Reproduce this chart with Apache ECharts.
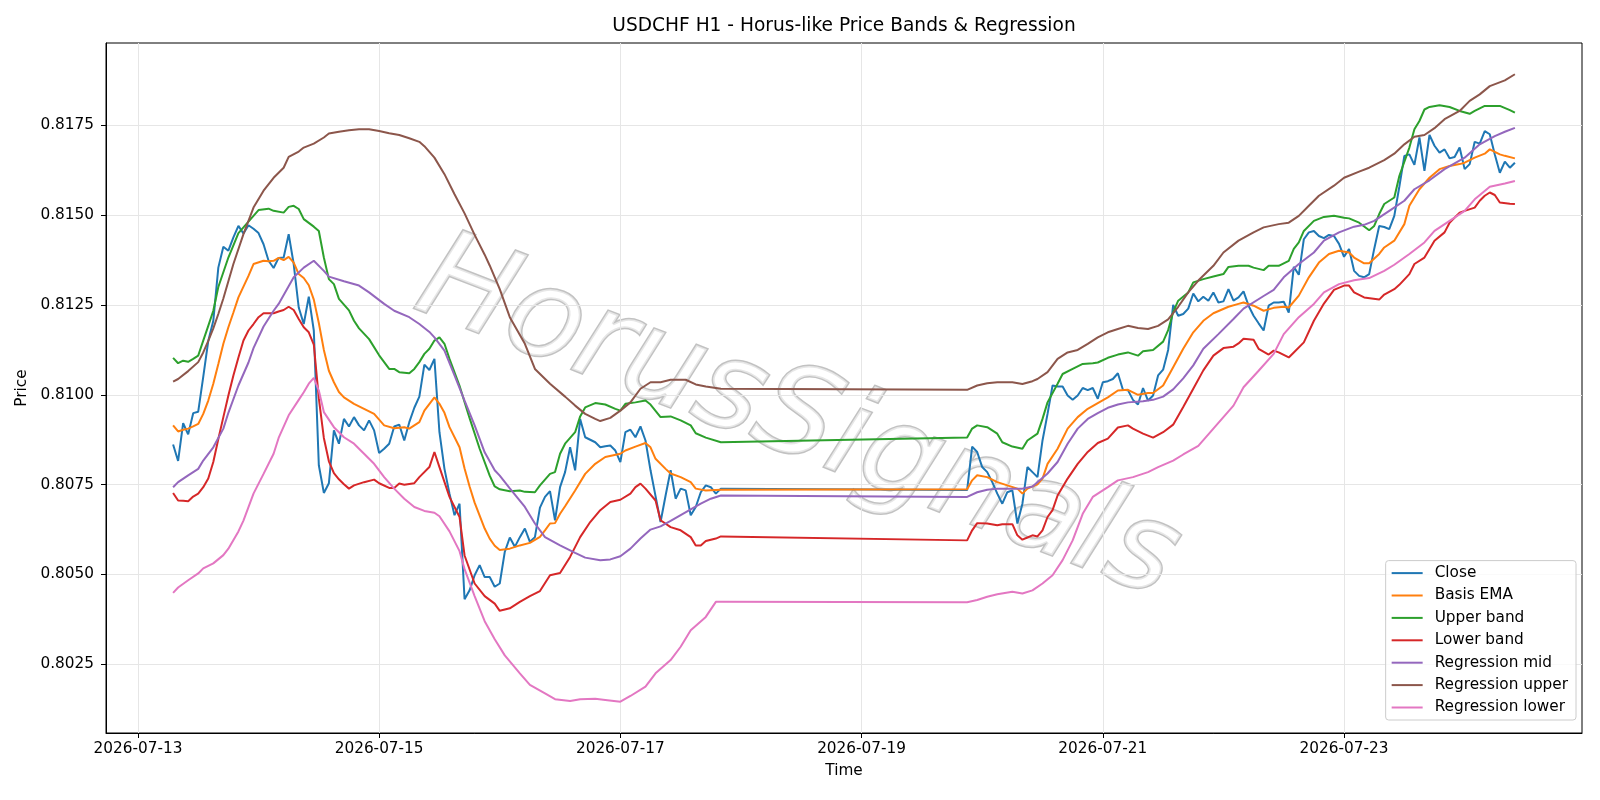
<!DOCTYPE html>
<html>
<head>
<meta charset="utf-8">
<title>USDCHF H1 - Horus-like Price Bands & Regression</title>
<script src="https://cdn.jsdelivr.net/npm/echarts@6/dist/echarts.min.js"></script>
<style>
  html, body { margin: 0; padding: 0; background: #fff; }
  #chart { width: 1600px; height: 800px; }
</style>
</head>
<body>
<div id="chart"></div>
<script>
// x values are hours since 2026-07-13 00:00
const dateTicks = [0, 48, 96, 144, 192, 240];
const priceTicks = [0.8025, 0.8050, 0.8075, 0.8100, 0.8125, 0.8150, 0.8175];

// hourly close, Mon 07:00 -> Fri 20:00, then Sun 21:00 -> Fri 10:00
const closeStartA = 7;
const closeA = [
  0.80862, 0.80816, 0.80921, 0.80890, 0.80949, 0.80953, 0.81050, 0.81150, 0.81206, 0.81354,
  0.81412, 0.81401, 0.81438, 0.81470, 0.81449, 0.81472, 0.81462, 0.81450, 0.81419, 0.81373,
  0.81353, 0.81381, 0.81382, 0.81447, 0.81364, 0.81243, 0.81197, 0.81273, 0.81179, 0.80804,
  0.80727, 0.80754, 0.80901, 0.80864, 0.80933, 0.80912, 0.80938, 0.80915, 0.80901, 0.80929,
  0.80901, 0.80838, 0.80850, 0.80864, 0.80912, 0.80917, 0.80873, 0.80924, 0.80964, 0.80995,
  0.81084, 0.81069, 0.81100, 0.80896, 0.80794, 0.80725, 0.80665, 0.80697, 0.80431, 0.80456,
  0.80498, 0.80526, 0.80493, 0.80493, 0.80466, 0.80475, 0.80563, 0.80603, 0.80577, 0.80604,
  0.80628, 0.80591, 0.80604, 0.80686, 0.80716, 0.80732, 0.80651, 0.80743, 0.80785, 0.80854,
  0.80790, 0.80933, 0.80882, 0.80875, 0.80868, 0.80854, 0.80857, 0.80859, 0.80845, 0.80813,
  0.80896, 0.80903, 0.80882, 0.80912, 0.80873, 0.80790, 0.80718, 0.80646, 0.80720, 0.80790,
  0.80711, 0.80739, 0.80734, 0.80665, 0.80688, 0.80729, 0.80748, 0.80743, 0.80725, 0.80739
];
const closeStartB = 165;
const closeB = [
  0.80735, 0.80856, 0.80841, 0.80799, 0.80785, 0.80757, 0.80725, 0.80697, 0.80729, 0.80734,
  0.80642, 0.80697, 0.80799, 0.80785, 0.80771, 0.80873, 0.80947, 0.81026, 0.81023, 0.81023,
  0.80998, 0.80986, 0.80998, 0.81019, 0.81013, 0.81019, 0.80989, 0.81035, 0.81038, 0.81044,
  0.81060, 0.81014, 0.81013, 0.80986, 0.80973, 0.81019, 0.80984, 0.80998, 0.81054, 0.81070,
  0.81125, 0.81250, 0.81220, 0.81225, 0.81240, 0.81282, 0.81260, 0.81273, 0.81262, 0.81285,
  0.81257, 0.81260, 0.81294, 0.81262, 0.81271, 0.81288, 0.81248, 0.81220, 0.81199, 0.81179,
  0.81248, 0.81257, 0.81257, 0.81259, 0.81229, 0.81356, 0.81334, 0.81433, 0.81452, 0.81456,
  0.81442, 0.81436, 0.81445, 0.81442, 0.81420, 0.81384, 0.81406, 0.81345, 0.81331, 0.81327,
  0.81336, 0.81406, 0.81470, 0.81467, 0.81461, 0.81498, 0.81579, 0.81665, 0.81669, 0.81640,
  0.81716, 0.81623, 0.81723, 0.81693, 0.81674, 0.81683, 0.81658, 0.81662, 0.81688, 0.81628,
  0.81642, 0.81704, 0.81699, 0.81734, 0.81725, 0.81669, 0.81618, 0.81649, 0.81632, 0.81646
];

const basisEma = [
  [7,0.80915],[8,0.80898],[9,0.80903],[10,0.80906],[11,0.80912],[12,0.80919],[13,0.80947],[14,0.80984],
  [15,0.81031],[16,0.81086],[17,0.81142],[18,0.81188],[19,0.81229],[20,0.81271],[22,0.81331],[23,0.81364],
  [25,0.81373],[26,0.81372],[27,0.81373],[28,0.81381],[29,0.81375],[30,0.81384],[31,0.81368],[32,0.81336],
  [33,0.81325],[34,0.81305],[35,0.81265],[36,0.81200],[37,0.81125],[38,0.81067],[39,0.81035],[40,0.81008],
  [41,0.80993],[43,0.80975],[45,0.80961],[47,0.80947],[49,0.80915],[51,0.80907],[53,0.80910],[54,0.80906],
  [56,0.80924],[57,0.80956],[59,0.80993],[60,0.80975],[61,0.80950],[62,0.80910],[64,0.80854],[65,0.80795],
  [66,0.80745],[67,0.80700],[69,0.80628],[70,0.80600],[71,0.80580],[72,0.80568],[74,0.80572],[76,0.80581],
  [78,0.80588],[80,0.80605],[81,0.80623],[82,0.80642],[83,0.80643],[84,0.80669],[85,0.80690],[87,0.80734],
  [89,0.80780],[91,0.80808],[93,0.80827],[96,0.80836],[97,0.80845],[99,0.80856],[101,0.80866],[102,0.80854],
  [103,0.80822],[105,0.80794],[106,0.80781],[108,0.80771],[110,0.80757],[111,0.80739],[113,0.80734],[116,0.80736],
  [165,0.80737],[166,0.80762],[167,0.80776],[169,0.80771],[171,0.80757],[173,0.80748],[175,0.80739],[176,0.80725],
  [177,0.80739],[179,0.80751],[180,0.80767],[181,0.80808],[183,0.80850],[185,0.80906],[187,0.80938],[189,0.80961],
  [191,0.80977],[193,0.80993],[195,0.81012],[197,0.81014],[199,0.81000],[201,0.81005],[202,0.81005],[204,0.81026],
  [206,0.81077],[208,0.81128],[210,0.81174],[212,0.81206],[214,0.81227],[217,0.81245],[219,0.81253],[220,0.81257],
  [222,0.81248],[224,0.81234],[226,0.81242],[228,0.81245],[229,0.81243],[231,0.81276],[233,0.81327],[235,0.81368],
  [237,0.81392],[239,0.81401],[241,0.81396],[242,0.81382],[244,0.81366],[245,0.81366],[247,0.81392],[248,0.81410],
  [250,0.81429],[252,0.81475],[253,0.81526],[255,0.81572],[257,0.81604],[259,0.81628],[261,0.81637],[263,0.81642],
  [264,0.81646],[266,0.81660],[268,0.81671],[269,0.81683],[271,0.81669],[272,0.81665],[274,0.81658]
];

const upperBand = [
  [7,0.81103],[8,0.81088],[9,0.81095],[10,0.81092],[11,0.81100],[12,0.81109],[13,0.81151],[14,0.81192],
  [15,0.81234],[16,0.81300],[18,0.81382],[20,0.81450],[22,0.81482],[24,0.81514],[26,0.81518],[27,0.81512],
  [29,0.81507],[30,0.81523],[31,0.81526],[32,0.81517],[33,0.81489],[35,0.81468],[36,0.81456],[37,0.81382],
  [38,0.81322],[39,0.81308],[40,0.81267],[42,0.81235],[43,0.81206],[44,0.81185],[46,0.81155],[48,0.81110],
  [50,0.81072],[51,0.81072],[52,0.81063],[54,0.81060],[55,0.81072],[56,0.81091],[57,0.81114],[58,0.81128],
  [59,0.81151],[60,0.81160],[61,0.81142],[62,0.81100],[64,0.81025],[66,0.80935],[68,0.80850],[70,0.80775],
  [71,0.80745],[72,0.80737],[74,0.80732],[76,0.80734],[77,0.80730],[79,0.80729],[80,0.80748],[82,0.80780],
  [83,0.80785],[84,0.80836],[85,0.80864],[87,0.80896],[88,0.80940],[89,0.80965],[91,0.80977],[93,0.80973],
  [95,0.80961],[96,0.80956],[97,0.80975],[99,0.80979],[101,0.80984],[102,0.80973],[104,0.80938],[106,0.80940],
  [108,0.80929],[110,0.80915],[111,0.80893],[113,0.80881],[116,0.80868],
  [165,0.80881],[166,0.80906],[167,0.80915],[169,0.80910],[171,0.80892],[172,0.80868],[174,0.80856],[176,0.80850],
  [177,0.80873],[179,0.80892],[180,0.80933],[181,0.80979],[183,0.81031],[184,0.81058],[186,0.81072],[188,0.81086],
  [190,0.81088],[191,0.81090],[193,0.81103],[195,0.81112],[197,0.81118],[199,0.81109],[200,0.81121],[202,0.81125],
  [204,0.81148],[205,0.81180],[206,0.81230],[207,0.81262],[209,0.81285],[210,0.81313],[212,0.81322],[214,0.81329],
  [216,0.81336],[217,0.81356],[219,0.81359],[221,0.81359],[222,0.81354],[224,0.81347],[225,0.81359],[227,0.81359],
  [229,0.81373],[230,0.81406],[231,0.81424],[232,0.81456],[234,0.81484],[236,0.81495],[238,0.81498],[240,0.81493],
  [241,0.81491],[243,0.81479],[245,0.81458],[246,0.81470],[247,0.81503],[248,0.81531],[250,0.81549],[251,0.81609],
  [253,0.81688],[254,0.81739],[255,0.81762],[256,0.81794],[257,0.81801],[259,0.81806],[261,0.81801],[263,0.81790],
  [265,0.81782],[266,0.81790],[268,0.81804],[270,0.81804],[271,0.81804],[273,0.81792],[274,0.81785]
];

const lowerBand = [
  [7,0.80727],[8,0.80706],[9,0.80705],[10,0.80704],[11,0.80717],[12,0.80725],[13,0.80743],[14,0.80767],
  [15,0.80813],[16,0.80877],[17,0.80938],[18,0.80998],[19,0.81054],[20,0.81104],[21,0.81151],[22,0.81179],
  [23,0.81197],[24,0.81216],[25,0.81227],[26,0.81227],[27,0.81227],[28,0.81232],[29,0.81236],[30,0.81245],
  [31,0.81236],[32,0.81211],[33,0.81188],[34,0.81174],[35,0.81140],[36,0.80990],[37,0.80880],[38,0.80815],
  [39,0.80782],[40,0.80765],[41,0.80751],[42,0.80739],[43,0.80748],[45,0.80757],[47,0.80764],[48,0.80754],
  [50,0.80741],[51,0.80741],[52,0.80753],[53,0.80750],[55,0.80754],[56,0.80771],[58,0.80799],[59,0.80841],
  [60,0.80799],[62,0.80716],[64,0.80660],[65,0.80553],[67,0.80475],[69,0.80440],[71,0.80419],[72,0.80399],
  [74,0.80406],[76,0.80424],[78,0.80440],[80,0.80454],[82,0.80498],[84,0.80504],[86,0.80549],[88,0.80604],
  [90,0.80646],[92,0.80679],[94,0.80702],[96,0.80708],[98,0.80725],[99,0.80743],[100,0.80753],[101,0.80739],
  [103,0.80706],[104,0.80651],[106,0.80632],[108,0.80623],[110,0.80604],[111,0.80581],[112,0.80581],[113,0.80593],
  [115,0.80600],[116,0.80606],
  [165,0.80595],[166,0.80623],[167,0.80643],[169,0.80642],[171,0.80637],[172,0.80640],[174,0.80640],[175,0.80609],
  [176,0.80597],[177,0.80603],[178,0.80609],[179,0.80606],[180,0.80623],[181,0.80660],[182,0.80679],[183,0.80720],
  [185,0.80767],[187,0.80808],[189,0.80841],[191,0.80866],[193,0.80878],[195,0.80909],[197,0.80915],[198,0.80906],
  [200,0.80892],[202,0.80881],[204,0.80896],[206,0.80917],[208,0.80966],[210,0.81017],[212,0.81068],[214,0.81109],
  [216,0.81130],[218,0.81134],[219,0.81143],[220,0.81156],[222,0.81153],[223,0.81128],[225,0.81112],[226,0.81123],
  [227,0.81118],[229,0.81104],[230,0.81118],[232,0.81146],[234,0.81206],[236,0.81254],[238,0.81292],[240,0.81304],
  [241,0.81304],[242,0.81285],[244,0.81271],[247,0.81265],[248,0.81279],[250,0.81294],[251,0.81306],[253,0.81336],
  [254,0.81364],[256,0.81382],[258,0.81429],[260,0.81452],[261,0.81479],[263,0.81507],[264,0.81512],[266,0.81521],
  [267,0.81540],[268,0.81554],[269,0.81563],[270,0.81556],[271,0.81535],[273,0.81532],[274,0.81531]
];

const regMid = [
  [7,0.80743],[8,0.80757],[10,0.80776],[12,0.80794],[13,0.80817],[15,0.80854],[17,0.80906],[18,0.80950],
  [20,0.81026],[22,0.81090],[23,0.81130],[25,0.81190],[27,0.81234],[28,0.81253],[31,0.81327],[33,0.81354],
  [35,0.81373],[37,0.81345],[38,0.81329],[41,0.81316],[44,0.81304],[46,0.81285],[49,0.81253],[51,0.81234],
  [54,0.81216],[56,0.81197],[58,0.81175],[59,0.81160],[61,0.81123],[63,0.81054],[65,0.80984],[67,0.80915],
  [69,0.80840],[71,0.80790],[72,0.80775],[74,0.80740],[77,0.80688],[79,0.80642],[81,0.80604],[84,0.80581],
  [87,0.80560],[89,0.80547],[92,0.80540],[94,0.80542],[96,0.80551],[98,0.80572],[100,0.80600],[102,0.80625],
  [104,0.80634],[106,0.80649],[108,0.80665],[110,0.80681],[112,0.80697],[114,0.80711],[116,0.80720],
  [165,0.80716],[167,0.80729],[169,0.80736],[171,0.80739],[174,0.80739],[176,0.80739],[178,0.80745],[179,0.80757],
  [181,0.80781],[183,0.80813],[185,0.80864],[187,0.80906],[189,0.80933],[191,0.80949],[193,0.80964],[195,0.80973],
  [197,0.80979],[200,0.80982],[202,0.80986],[204,0.80995],[206,0.81015],[208,0.81046],[210,0.81082],[212,0.81128],
  [215,0.81169],[218,0.81211],[220,0.81240],[224,0.81275],[226,0.81292],[228,0.81327],[231,0.81364],[234,0.81396],
  [236,0.81429],[239,0.81452],[242,0.81468],[244,0.81473],[246,0.81484],[249,0.81512],[252,0.81540],[254,0.81572],
  [257,0.81597],[260,0.81628],[264,0.81660],[267,0.81697],[270,0.81720],[272,0.81732],[274,0.81743]
];

const regUpper = [
  [7,0.81037],[8,0.81044],[10,0.81066],[12,0.81091],[13,0.81118],[14,0.81150],[15,0.81185],[16,0.81225],
  [17,0.81268],[19,0.81364],[21,0.81447],[23,0.81521],[25,0.81568],[27,0.81604],[29,0.81632],[30,0.81662],
  [32,0.81677],[33,0.81688],[35,0.81699],[37,0.81716],[38,0.81727],[40,0.81732],[42,0.81736],[44,0.81739],
  [46,0.81739],[48,0.81734],[50,0.81728],[52,0.81723],[54,0.81714],[56,0.81704],[57,0.81692],[59,0.81660],
  [61,0.81614],[63,0.81558],[65,0.81505],[67,0.81445],[69,0.81390],[70,0.81360],[72,0.81294],[74,0.81216],
  [77,0.81142],[79,0.81072],[82,0.81031],[85,0.80995],[87,0.80970],[89,0.80947],[91,0.80933],[92,0.80927],
  [94,0.80936],[96,0.80956],[98,0.80979],[100,0.81017],[102,0.81035],[104,0.81035],[106,0.81042],[109,0.81042],
  [111,0.81029],[113,0.81023],[116,0.81017],
  [165,0.81014],[167,0.81026],[169,0.81032],[171,0.81035],[174,0.81035],[176,0.81030],[178,0.81038],[179,0.81044],
  [181,0.81063],[183,0.81100],[185,0.81118],[187,0.81125],[189,0.81142],[191,0.81160],[193,0.81174],[195,0.81183],
  [197,0.81192],[199,0.81186],[201,0.81183],[203,0.81192],[205,0.81210],[207,0.81245],[209,0.81285],[211,0.81318],
  [214,0.81359],[216,0.81396],[219,0.81429],[222,0.81452],[224,0.81466],[227,0.81475],[229,0.81479],[231,0.81498],
  [233,0.81526],[235,0.81554],[238,0.81582],[240,0.81604],[243,0.81621],[245,0.81632],[248,0.81653],[250,0.81671],
  [252,0.81697],[254,0.81718],[256,0.81723],[258,0.81742],[260,0.81767],[263,0.81790],[265,0.81818],[267,0.81836],
  [269,0.81859],[272,0.81875],[274,0.81892]
];

const regLower = [
  [7,0.80449],[8,0.80464],[10,0.80484],[12,0.80503],[13,0.80517],[15,0.80531],[17,0.80554],[18,0.80572],
  [20,0.80620],[21,0.80650],[23,0.80725],[25,0.80780],[27,0.80836],[28,0.80880],[30,0.80943],[32,0.80986],
  [33,0.81007],[34,0.81031],[35,0.81047],[36,0.81012],[37,0.80952],[39,0.80910],[41,0.80882],[43,0.80864],
  [45,0.80836],[47,0.80808],[49,0.80771],[51,0.80739],[53,0.80711],[55,0.80688],[57,0.80677],[59,0.80672],
  [60,0.80662],[62,0.80620],[64,0.80565],[65,0.80515],[67,0.80440],[69,0.80370],[71,0.80320],[73,0.80275],
  [76,0.80225],[78,0.80193],[81,0.80169],[83,0.80153],[86,0.80148],[88,0.80153],[91,0.80154],[93,0.80151],
  [96,0.80146],[98,0.80162],[101,0.80188],[103,0.80225],[106,0.80262],[108,0.80299],[110,0.80345],[113,0.80382],
  [115,0.80424],[116,0.80424],
  [165,0.80423],[167,0.80429],[169,0.80438],[171,0.80445],[174,0.80452],[176,0.80447],[178,0.80456],[180,0.80475],
  [182,0.80498],[184,0.80540],[186,0.80595],[188,0.80669],[190,0.80716],[193,0.80743],[195,0.80762],[198,0.80771],
  [201,0.80785],[203,0.80799],[206,0.80817],[208,0.80834],[211,0.80858],[214,0.80906],[218,0.80970],[220,0.81021],
  [223,0.81067],[226,0.81114],[228,0.81169],[231,0.81216],[234,0.81253],[236,0.81285],[239,0.81308],[242,0.81319],
  [245,0.81325],[248,0.81345],[250,0.81362],[253,0.81392],[256,0.81424],[258,0.81456],[261,0.81484],[264,0.81512],
  [266,0.81544],[269,0.81579],[272,0.81588],[274,0.81595]
];

const seriesNames = ['Close', 'Basis EMA', 'Upper band', 'Lower band', 'Regression mid', 'Regression upper', 'Regression lower'];
const seriesColors = ['#1f77b4', '#ff7f0e', '#2ca02c', '#d62728', '#9467bd', '#8c564b', '#e377c2'];

const closePts = closeA.map((v, i) => [closeStartA + i, v])
  .concat(closeB.map((v, i) => [closeStartB + i, v]));
const seriesData = [closePts, basisEma, upperBand, lowerBand, regMid, regUpper, regLower];

const FONT = 'DejaVu Sans';
const FS = 15.3;

function hourToDate (h) {
  const d = new Date(Date.UTC(2026, 6, 13) + h * 3600 * 1000);
  return d.toISOString().slice(0, 10);
}

const chart = echarts.init(document.getElementById('chart'), null, { renderer: 'canvas' });

const option = {
  animation: false,
  backgroundColor: '#fff',
  color: seriesColors,
  grid: {
    left: 106, right: 18, top: 43, bottom: 67,
    show: true, borderColor: '#000', borderWidth: 1, backgroundColor: 'transparent'
  },
  graphic: [
    {
      type: 'text', x: 844, y: 26, z: 10,
      style: { text: 'USDCHF H1 - Horus-like Price Bands & Regression', fontFamily: FONT, fontSize: 18.6, fill: '#000', align: 'center', verticalAlign: 'middle' }
    },
    {
      type: 'text', x: 797, y: 422, rotation: -0.37, z: 0,
      style: {
        text: 'HorusSignals', fontFamily: FONT, fontStyle: 'italic', fontSize: 123,
        fill: 'rgba(255,255,255,0.6)', stroke: 'rgba(120,120,120,0.45)', lineWidth: 3,
        align: 'center', verticalAlign: 'middle',
        shadowColor: 'rgba(0,0,0,0.25)', shadowOffsetX: 3, shadowOffsetY: 3, shadowBlur: 2
      }
    }
  ],
  legend: {
    data: seriesNames,
    orient: 'vertical',
    right: 24, bottom: 80,
    icon: 'rect', itemWidth: 31, itemHeight: 2, itemGap: 5.4,
    padding: [4, 8, 4, 6],
    backgroundColor: 'rgba(255,255,255,0.8)',
    borderColor: '#ccc', borderWidth: 1, borderRadius: 3,
    textStyle: { fontFamily: FONT, fontSize: FS, color: '#000', lineHeight: 17, padding: [0, 0, 0, 7] }
  },
  xAxis: {
    type: 'value',
    min: -6.35, max: 287.35,
    name: 'Time', nameLocation: 'middle', nameGap: 31,
    nameTextStyle: { fontFamily: FONT, fontSize: FS, color: '#000' },
    axisLine: { show: true, onZero: false, lineStyle: { color: '#000', width: 1 } },
    axisTick: { show: true, length: 5, customValues: dateTicks, lineStyle: { color: '#000' } },
    axisLabel: { customValues: dateTicks, margin: 9, fontFamily: FONT, fontSize: FS, color: '#000', formatter: hourToDate },
    splitLine: { show: true, lineStyle: { color: '#e6e6e6', width: 1 } }
  },
  yAxis: {
    type: 'value',
    min: 0.80059, max: 0.81979,
    name: 'Price', nameLocation: 'middle', nameGap: 73,
    nameTextStyle: { fontFamily: FONT, fontSize: FS, color: '#000' },
    axisLine: { show: true, onZero: false, lineStyle: { color: '#000', width: 1 } },
    axisTick: { show: true, length: 5, customValues: priceTicks, lineStyle: { color: '#000' } },
    axisLabel: { customValues: priceTicks, margin: 12, fontFamily: FONT, fontSize: FS, color: '#000', formatter: v => v.toFixed(4) },
    splitLine: { show: true, lineStyle: { color: '#e6e6e6', width: 1 } }
  },
  series: seriesNames.map((name, i) => ({
    name: name,
    type: 'line',
    data: seriesData[i],
    showSymbol: false,
    symbol: 'none',
    lineStyle: { width: 2, color: seriesColors[i] },
    itemStyle: { color: seriesColors[i] },
    z: 2 + i
  }))
};

chart.setOption(option);
window.addEventListener('resize', () => chart.resize());
</script>
</body>
</html>
